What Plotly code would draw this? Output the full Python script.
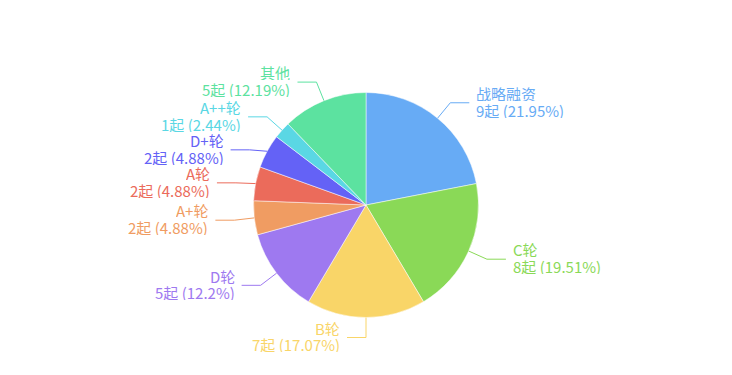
import math
import plotly.graph_objects as go

categories = ["战略融资", "C轮", "B轮", "D轮", "A+轮", "A轮", "D+轮", "A++轮", "其他"]
counts = [9, 8, 7, 5, 2, 2, 2, 1, 5]
colors = ["#67abf5", "#8ad957", "#f9d568", "#9e79f0", "#f09c62", "#eb6b5b",
          "#6462f6", "#5ad7e4", "#5ce2a0"]

W, H = 732, 375
OFF = 8  # page body margin in the browser
cx, cy, r = 366 - OFF, 205 - OFF, 112.5


def percents(vals, digits=2):
    total = sum(vals)
    scale = 10 ** digits
    target = 100 * scale
    raw = [v / total * target for v in vals]
    seats = [math.floor(x) for x in raw]
    rem = [x - s for x, s in zip(raw, seats)]
    left = target - sum(seats)
    while left > 0:
        best = max(range(len(rem)), key=lambda i: (rem[i], -i))
        seats[best] += 1
        rem[best] = -1
        left -= 1
    return [f"{s / scale:.{digits}f}".rstrip("0").rstrip(".") for s in seats]


pcts = percents(counts)
total = sum(counts)

fig = go.Figure(go.Pie(
    labels=categories, values=counts, sort=False, direction="clockwise",
    rotation=0, textinfo="none", hoverinfo="label+value+percent",
    marker=dict(colors=colors, line=dict(color="white", width=0.5)),
    domain=dict(x=[(cx - r) / W, (cx + r) / W],
                y=[(H - cy - r) / H, (H - cy + r) / H]),
    showlegend=False,
))

# label layout (echarts-like leader lines)
R = r + 20
items = []
cum = 0
for i, v in enumerate(counts):
    mid = (cum + v / 2) / total * 2 * math.pi
    cum += v
    s, c = math.sin(mid), math.cos(mid)
    items.append(dict(i=i, s=s, c=c,
                      ex=cx + r * s, ey=cy - r * c,
                      kx=cx + R * s, ky=cy - R * c,
                      left=s < 1e-6))

gap = 33
for side in (True, False):
    grp = sorted([it for it in items if it["left"] == side], key=lambda d: d["ky"])
    for a, b in zip(grp, grp[1:]):
        if b["ky"] - a["ky"] < gap:
            b["ky"] = a["ky"] + gap

px = lambda x: x / W
py = lambda y: 1 - y / H
shapes, annots = [], []
FS = 15
LH = 16.5
for it in items:
    i = it["i"]
    col = colors[i]
    hx = it["kx"] - 19 if it["left"] else it["kx"] + 19
    shapes.append(dict(
        type="path", xref="paper", yref="paper",
        path=f"M {px(it['ex'])} {py(it['ey'])} L {px(it['kx'])} {py(it['ky'])} L {px(hx)} {py(it['ky'])}",
        line=dict(color=col, width=1)))
    tx = hx - 6 if it["left"] else hx + 6
    lines = [categories[i], f"{counts[i]}起 ({pcts[i]}%)"]
    for k, t in enumerate(lines):
        yy = it["ky"] - 1.5 + (k - 0.5) * LH
        annots.append(dict(
            x=px(tx), y=py(yy), xref="paper", yref="paper",
            text=t, showarrow=False, height=16, borderpad=0,
            xanchor="right" if it["left"] else "left", yanchor="middle",
            font=dict(color=col, size=FS, family="Noto Sans CJK SC")))

fig.update_layout(
    width=W, height=H, margin=dict(l=0, r=0, t=0, b=0),
    paper_bgcolor="white", plot_bgcolor="white",
    shapes=shapes, annotations=annots,
    font=dict(family="Noto Sans CJK SC"),
)
fig.write_html("out.html")
